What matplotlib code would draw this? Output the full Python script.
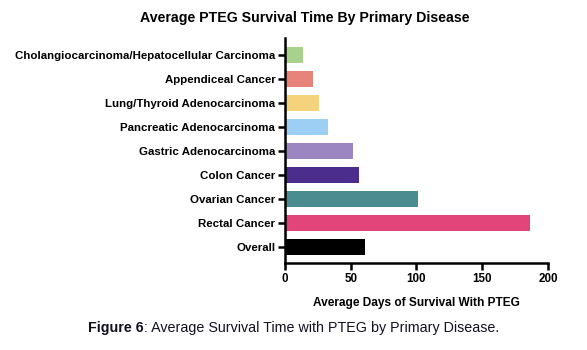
import matplotlib
matplotlib.use('Agg')
import matplotlib.pyplot as plt

plt.rcParams['font.family'] = ['Liberation Sans', 'DejaVu Sans']

diseases = ['Overall', 'Rectal Cancer', 'Ovarian Cancer', 'Colon Cancer',
            'Gastric Adenocarcinoma', 'Pancreatic Adenocarcinoma',
            'Lung/Thyroid Adenocarcinoma', 'Appendiceal Cancer',
            'Cholangiocarcinoma/Hepatocellular Carcinoma']
days = [61, 186, 101, 56, 52, 33, 26, 21, 14]
colors = ['#000000', '#e2457a', '#4b8c90', '#4a2d8c', '#9c86c2',
          '#9ccff3', '#f5d27c', '#e8837b', '#a9d18e']
xticks = [0, 50, 100, 150, 200]

fig = plt.figure(figsize=(5.87, 3.5), dpi=100, facecolor='white')
ax = fig.add_axes([0.4855, 0.249, 0.448, 0.642])

ypos = range(len(diseases))
ax.barh(ypos, days, height=0.67, color=colors, edgecolor='none')

ax.set_xlim(0, 200)
ax.set_ylim(-0.67, 8.7)
ax.set_yticks(list(ypos))
ax.set_yticklabels(diseases, fontsize=8.25, fontweight='bold')
ax.set_xticks(xticks)
ax.set_xticklabels([str(t) for t in xticks], fontsize=8.4, fontweight='bold')
ax.set_xlabel('Average Days of Survival With PTEG', fontsize=8.6,
              fontweight='bold', labelpad=9)

for s in ['top', 'right']:
    ax.spines[s].set_visible(False)
for s in ['left', 'bottom']:
    ax.spines[s].set_linewidth(1.8)
ax.tick_params(axis='both', width=1.8, length=5, pad=2)

fig.text(0.52, 0.948, 'Average PTEG Survival Time By Primary Disease',
         ha='center', va='center', fontsize=10.2, fontweight='bold')

# caption with bold prefix
t1 = fig.text(0.15, 0.062, 'Figure 6', fontsize=10.3, fontweight='bold',
              ha='left', va='center', color='#111122')
fig.canvas.draw()
bb = t1.get_window_extent()
x_end = fig.transFigure.inverted().transform((bb.x1, bb.y0))[0]
fig.text(x_end, 0.062, ': Average Survival Time with PTEG by Primary Disease.',
         fontsize=10.3, ha='left', va='center', color='#111122')

plt.savefig('out.png', dpi=100)
